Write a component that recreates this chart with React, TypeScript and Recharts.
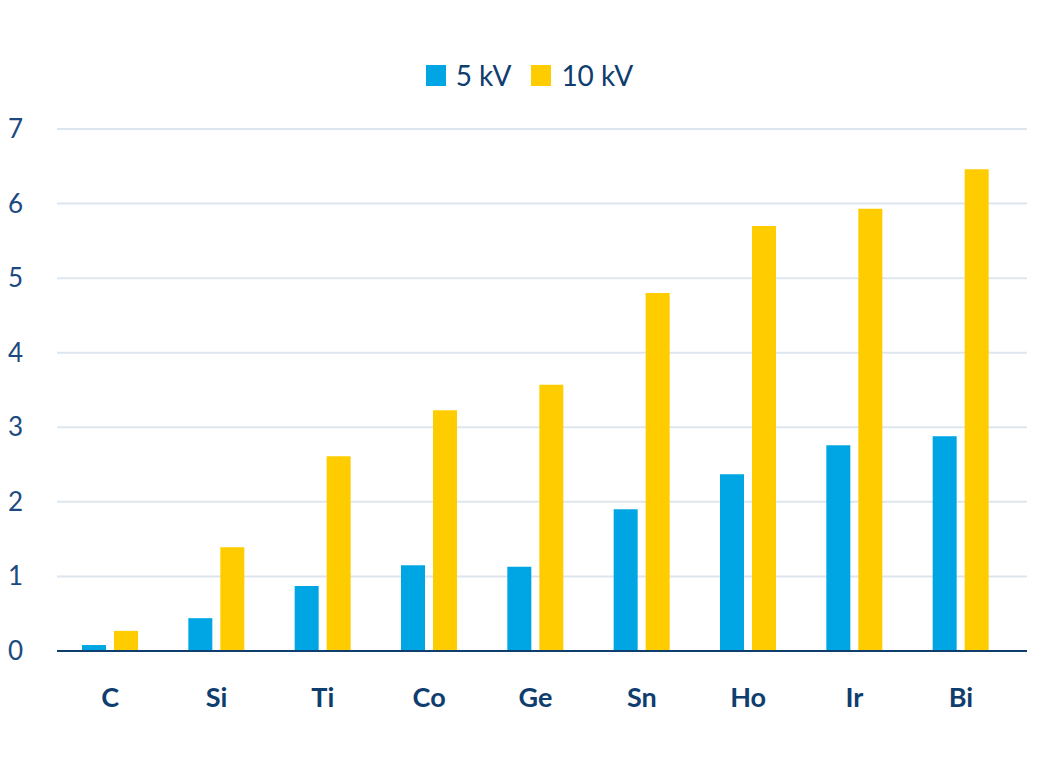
import { BarChart, Bar, XAxis, YAxis, CartesianGrid, Legend } from 'recharts';

const elements = ['C', 'Si', 'Ti', 'Co', 'Ge', 'Sn', 'Ho', 'Ir', 'Bi'];
const kv5 = [0.08, 0.44, 0.87, 1.15, 1.13, 1.9, 2.37, 2.76, 2.88];
const kv10 = [0.27, 1.39, 2.61, 3.23, 3.57, 4.8, 5.7, 5.93, 6.46];
const yTicks = [0, 1, 2, 3, 4, 5, 6, 7];

const data = elements.map((name, i) => ({ name, kv5: kv5[i], kv10: kv10[i] }));

const NAVY = '#0f3d6e';
const BLUE = '#00a6e4';
const YELLOW = '#ffcc00';

function YTick(props: any) {
  const { y, payload } = props;
  return (
    <text x={8} y={y} dy={9} textAnchor="start" fill="#1b4a80" fontSize={26} fontFamily="Lato">
      {payload.value}
    </text>
  );
}

function LegendContent() {
  const items = [
    { label: '5 kV', color: BLUE },
    { label: '10 kV', color: YELLOW },
  ];
  return (
    <div style={{ display: 'flex', justifyContent: 'center', gap: 20, height: 32, paddingLeft: 17, fontFamily: 'Lato', fontSize: 28, color: NAVY, lineHeight: '32px' }}>
      {items.map((it) => (
        <div key={it.label} style={{ display: 'flex', alignItems: 'center', gap: 10 }}>
          <div style={{ width: 20, height: 21, background: it.color }} />
          <span>{it.label}</span>
        </div>
      ))}
    </div>
  );
}

export default function App() {
  return (
    <div style={{ position: 'absolute', left: 0, top: 0, background: '#fff' }}>
      <BarChart
        width={1042}
        height={781}
        data={data}
        margin={{ top: 97, right: 15, bottom: 100, left: 0 }}
        barSize={24}
        barGap={8}
      >
        <CartesianGrid vertical={false} stroke="#dde6ee" strokeWidth={2} />
        <Legend verticalAlign="top" height={32} content={<LegendContent />} wrapperStyle={{ top: 59, left: 0, width: 1042 }} />
        <XAxis
          dataKey="name"
          axisLine={{ stroke: NAVY, strokeWidth: 2 }}
          tickLine={false}
          tickMargin={31}
          padding={{ left: 0, right: 13 }}
          tick={{ fill: NAVY, fontSize: 27, fontWeight: 700, fontFamily: 'Lato' }}
          interval={0}
        />
        <YAxis
          width={57}
          domain={[0, 7]}
          ticks={yTicks}
          axisLine={false}
          tickLine={false}
          tick={<YTick />}
        />
        <Bar dataKey="kv5" name="5 kV" fill={BLUE} isAnimationActive={false} />
        <Bar dataKey="kv10" name="10 kV" fill={YELLOW} isAnimationActive={false} />
      </BarChart>
    </div>
  );
}
